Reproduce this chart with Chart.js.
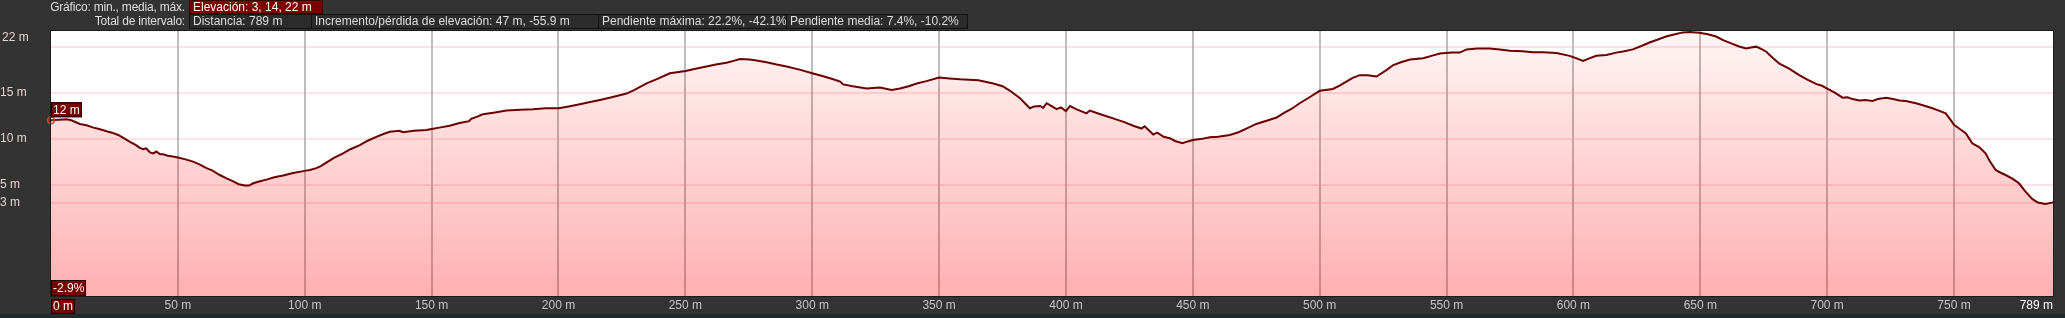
<!DOCTYPE html>
<html lang="es">
<head>
<meta charset="utf-8">
<title>Perfil de elevación</title>
<script src="https://cdn.jsdelivr.net/npm/chart.js@4.4.1/dist/chart.umd.min.js"></script>
<style>
  html, body { margin: 0; padding: 0; background: #333333; overflow: hidden; }
  body { width: 2065px; height: 318px; position: relative; font-family: "Liberation Sans", Arial, sans-serif; font-size: 12px; }
  #profileChart { position: absolute; left: 0; top: 0; }
  .hdr { position: absolute; box-sizing: border-box; height: 15px; line-height: 13px; color: #dedede; white-space: nowrap; }
  .hdr-label { left: 0; width: 187px; text-align: right; padding-right: 2px; line-height: 14px; letter-spacing: -0.2px; }
  .hdr-box { border: 1px solid #121212; background: #2c2c2c; padding: 0 3px; }
  .hdr-red { background: #7c0000; color: #ffffff; border-color: #3c0000; }
  #bottomStrip { position: absolute; left: 0; bottom: 0; width: 2065px; height: 4px; background: #1f2a2c; }
</style>
</head>
<body>
<canvas id="profileChart" width="2065" height="318"></canvas>

<!-- cabecera de resumen -->
<div class="hdr hdr-label" style="top:0">Gráfico: min., media, máx.</div>
<div class="hdr hdr-box hdr-red" style="top:0; left:189px; width:134px; height:14px;">Elevación: 3, 14, 22 m</div>
<div class="hdr hdr-label" style="top:14px">Total de intervalo:</div>
<div class="hdr hdr-box" style="top:14px; left:189px; width:123px;">Distancia: 789 m</div>
<div class="hdr hdr-box" style="top:14px; left:311px; width:288px;">Incremento/pérdida de elevación: 47 m, -55.9 m</div>
<div class="hdr hdr-box" style="top:14px; left:598px; width:189px;">Pendiente máxima: 22.2%, -42.1%</div>
<div class="hdr hdr-box" style="top:14px; left:786px; width:182px;">Pendiente media: 7.4%, -10.2%</div>
<div id="bottomStrip"></div>

<script>
// Perfil: distancia (m) y elevación (m)
const distanceM = [
    0, 3, 6.2, 8, 11.4, 14, 16.7, 19, 21.9, 24, 26.5, 29, 31.1, 33.5, 35, 36.4, 37.5, 39, 40.3, 41.5,
    43, 44.2, 46, 48, 50, 53, 56, 58.5, 61.3, 63.5, 66.5, 69, 71.8, 74, 76.4, 78, 79.7, 82, 84.9, 88,
    91.5, 95, 99.9, 102, 104.6, 106.5, 108.5, 111.5, 115.1, 118, 121.7, 125, 128.2, 131, 133.5, 137.4, 138.7, 143, 147.9, 150,
    153, 157.1, 161, 164.8, 165.6, 168, 170.2, 175, 179.5, 185, 190, 195, 200.1, 204, 208.4, 212, 216.3, 221, 226.8, 230,
    234.7, 239, 243.9, 250.1, 254, 258.3, 262, 266.2, 269, 271.5, 275.4, 278, 282, 286, 289.9, 295, 300, 304, 308.3, 311,
    312.2, 316, 321.4, 326.7, 331.3, 334.6, 338, 341.2, 345, 350, 354, 358.3, 365.5, 371.4, 375, 378, 381.9, 384, 385.8, 387.5,
    389.8, 391, 392.4, 394.5, 396.3, 398, 400, 401.6, 404, 408.1, 409.4, 413, 418.6, 423, 426.5, 429.8, 431, 434.4, 436, 438.5,
    440.9, 443, 445.9, 448, 450, 453, 456.7, 460, 464.6, 468, 471.1, 475, 480.3, 483, 485.6, 489, 492.1, 496, 500, 505.2,
    508, 510.5, 513, 515.8, 519, 522.4, 526, 529, 532, 535.6, 540.8, 544, 547.4, 552, 555.2, 557.9, 562, 567, 571, 574.9,
    580, 584.1, 588, 593.3, 598.5, 601, 603.8, 606, 609, 613, 616.9, 620, 623.4, 627, 630, 633, 636.5, 640, 643.1, 646,
    649.6, 653, 656.2, 659, 662.2, 665, 668, 670, 672, 674, 676, 678.5, 681.2, 685, 689, 692, 695.6, 698, 700, 703,
    706.1, 708, 710, 712.7, 715, 717.9, 720, 723.2, 726, 728.4, 731, 735, 738, 741.5, 744, 746.7, 748.5, 750, 752, 754.6,
    757.2, 760, 762.4, 764, 766.4, 768, 770.3, 773, 775.6, 778, 780.8, 783, 786, 788.6, 789
];
const elevationM = [
    12.0, 12.05, 12.1, 12.0, 11.6, 11.45, 11.2, 11.05, 10.8, 10.65, 10.4, 10.0, 9.65, 9.3, 9.0, 8.85, 8.95, 8.5, 8.4, 8.6,
    8.3, 8.3, 8.15, 8.05, 7.95, 7.75, 7.5, 7.2, 6.8, 6.55, 6.05, 5.7, 5.35, 5.05, 4.9, 4.9, 5.15, 5.35, 5.55, 5.8,
    6.0, 6.25, 6.5, 6.6, 6.8, 7.05, 7.4, 7.9, 8.4, 8.85, 9.3, 9.8, 10.2, 10.5, 10.75, 10.85, 10.7, 10.85, 10.95, 11.05,
    11.2, 11.4, 11.7, 11.9, 12.15, 12.4, 12.65, 12.85, 13.05, 13.15, 13.2, 13.3, 13.3, 13.5, 13.75, 13.95, 14.2, 14.5, 14.9, 15.3,
    16.0, 16.5, 17.1, 17.35, 17.6, 17.85, 18.05, 18.25, 18.45, 18.65, 18.6, 18.5, 18.3, 18.05, 17.85, 17.5, 17.1, 16.8, 16.45, 16.2,
    15.9, 15.7, 15.45, 15.55, 15.3, 15.45, 15.7, 16.0, 16.25, 16.65, 16.55, 16.45, 16.35, 16.0, 15.7, 15.2, 14.4, 13.8, 13.3, 13.5,
    13.55, 13.35, 13.85, 13.5, 13.2, 13.4, 13.0, 13.55, 13.2, 12.75, 13.05, 12.7, 12.2, 11.8, 11.4, 11.1, 11.35, 10.45, 10.65, 10.2,
    10.05, 9.75, 9.5, 9.7, 9.85, 9.95, 10.15, 10.2, 10.4, 10.7, 11.1, 11.6, 12.05, 12.3, 12.75, 13.25, 13.85, 14.5, 15.2, 15.4,
    15.8, 16.2, 16.6, 16.9, 16.9, 16.75, 17.4, 18.0, 18.3, 18.6, 18.75, 19.0, 19.25, 19.35, 19.35, 19.7, 19.8, 19.8, 19.7, 19.55,
    19.5, 19.4, 19.4, 19.3, 19.0, 18.75, 18.45, 18.7, 19.0, 19.1, 19.35, 19.5, 19.7, 20.1, 20.45, 20.75, 21.1, 21.35, 21.55, 21.6,
    21.5, 21.35, 21.1, 20.7, 20.35, 20.05, 19.8, 19.9, 20.0, 19.75, 19.45, 18.8, 18.15, 17.6, 16.9, 16.45, 15.95, 15.75, 15.45, 15.0,
    14.45, 14.5, 14.3, 14.15, 14.2, 14.1, 14.3, 14.45, 14.3, 14.15, 14.1, 13.85, 13.6, 13.3, 13.05, 12.75, 12.1, 11.5, 11.1, 10.6,
    9.5, 9.05, 8.4, 7.6, 6.6, 6.35, 6.05, 5.65, 5.15, 4.3, 3.45, 3.05, 2.9, 3.05, 3.1
];

// Ejes
const xTickValues = [0, 50, 100, 150, 200, 250, 300, 350, 400, 450, 500, 550, 600, 650, 700, 750, 789];
const yTickValues = [3, 5, 10, 15, 20];
const yTickLabels = ['3 m', '5 m', '10 m', '15 m', ''];
const yRange = [-7.1, 21.7];
const startSlopeLabel = '-2.9%';

const FONT = '"Liberation Sans", Arial, sans-serif';

function drawTag(ctx, text, x, y, h) {
    ctx.font = '12px ' + FONT;
    const w = Math.round(ctx.measureText(text).width) + 4;
    ctx.fillStyle = '#760000';
    ctx.fillRect(x, y, w, h);
    ctx.strokeStyle = '#1a0000';
    ctx.lineWidth = 1;
    ctx.strokeRect(x + 0.5, y + 0.5, w - 1, h - 1);
    ctx.fillStyle = '#ffffff';
    ctx.textAlign = 'left';
    ctx.textBaseline = 'middle';
    ctx.fillText(text, x + 2, y + h / 2 + 0.5);
}

// fondo blanco del área, marco, etiquetas de distancia y etiquetas rojas
const profileDecor = {
    id: 'profileDecor',
    beforeDraw(chart) {
        const { ctx, chartArea: a } = chart;
        ctx.save();
        ctx.fillStyle = '#ffffff';
        ctx.fillRect(a.left, a.top, a.right - a.left, a.bottom - a.top);
        ctx.restore();
    },
    afterDraw(chart) {
        const { ctx, chartArea: a, scales } = chart;
        ctx.save();
        ctx.strokeStyle = '#1c1c1c';
        ctx.lineWidth = 1;
        ctx.strokeRect(a.left - 0.5, a.top - 0.5, a.right - a.left + 1, a.bottom - a.top + 1);

        // etiquetas eje X
        ctx.font = '12px ' + FONT;
        ctx.textBaseline = 'middle';
        const labelY = a.bottom + 10;
        xTickValues.forEach((v, i) => {
            const px = scales.x.getPixelForValue(v);
            const txt = v + ' m';
            if (i === 0) {
                drawTag(ctx, txt, a.left, a.bottom + 3, 15);
            } else if (i === xTickValues.length - 1) {
                ctx.font = '12px ' + FONT;
                ctx.fillStyle = '#ffffff';
                ctx.textAlign = 'right';
                ctx.fillText(txt, a.right, labelY);
            } else {
                ctx.font = '12px ' + FONT;
                ctx.fillStyle = '#c6c6c6';
                ctx.textAlign = 'center';
                ctx.fillText(txt, px, labelY);
            }
        });

        // máximo de elevación, pegado arriba
        ctx.font = '12px ' + FONT;
        ctx.fillStyle = '#e6d2d2';
        ctx.textAlign = 'left';
        ctx.fillText(Math.round(Math.max(...elevationM)) + ' m', 2, a.top + 7);

        // elevación inicial y pendiente inicial
        const startY = scales.y.getPixelForValue(elevationM[0]);
        drawTag(ctx, Math.round(elevationM[0]) + ' m', a.left, startY - 18, 15);
        drawTag(ctx, startSlopeLabel, a.left, a.bottom - 16, 16);
        ctx.restore();
    }
};

function fillGradient(context) {
    const { ctx, chartArea } = context.chart;
    if (!chartArea) return 'rgba(255,0,0,0.15)';
    const g = ctx.createLinearGradient(0, chartArea.top, 0, chartArea.bottom);
    g.addColorStop(0, 'rgba(255,0,0,0.04)');
    g.addColorStop(1, 'rgba(255,0,0,0.31)');
    return g;
}

new Chart(document.getElementById('profileChart'), {
    type: 'line',
    data: {
        datasets: [{
            label: 'Elevación',
            data: distanceM.map((d, i) => ({ x: d, y: elevationM[i] })),
            borderColor: '#6a0000',
            borderWidth: 2,
            fill: 'start',
            backgroundColor: fillGradient,
            tension: 0,
            pointRadius: ctx => ctx.dataIndex === 0 ? 3.5 : 0,
            pointHoverRadius: 0,
            pointBorderColor: '#e23a3a',
            pointBackgroundColor: 'rgba(255,90,90,0.15)',
            pointBorderWidth: 1.5,
            clip: 6
        }]
    },
    options: {
        responsive: false,
        animation: false,
        devicePixelRatio: 1,
        layout: { padding: { top: 31, right: 12, left: 0, bottom: 0 } },
        plugins: { legend: { display: false }, tooltip: { enabled: false } },
        scales: {
            x: {
                type: 'linear',
                min: 0,
                max: 789,
                afterBuildTicks: s => { s.ticks = xTickValues.map(v => ({ value: v })); },
                afterFit: s => { s.height = 22; },
                border: { display: false },
                grid: {
                    color: c => (c.tick && (c.tick.value === 0 || c.tick.value === 789)) ? 'rgba(0,0,0,0)' : '#bdbdbd',
                    lineWidth: 2,
                    drawTicks: false
                },
                ticks: { display: false }
            },
            y: {
                min: yRange[0],
                max: yRange[1],
                afterBuildTicks: s => { s.ticks = yTickValues.map(v => ({ value: v })); },
                afterFit: s => { s.width = 51; },
                border: { display: false },
                grid: { color: 'rgba(240,150,160,0.26)', lineWidth: 2, drawTicks: false },
                ticks: {
                    callback: (v, i) => yTickLabels[i],
                    crossAlign: 'far',
                    padding: 0,
                    color: '#e6d2d2',
                    font: { family: FONT, size: 12 }
                }
            }
        }
    },
    plugins: [profileDecor]
});
</script>
</body>
</html>
